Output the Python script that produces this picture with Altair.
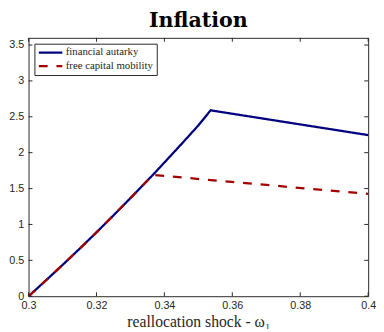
import altair as alt
import pandas as pd

# data
x_aut = [0.300, 0.305, 0.310, 0.315, 0.320, 0.325, 0.330, 0.3366, 0.340, 0.345, 0.350, 0.3536, 0.400]
y_aut = [0.00, 0.215, 0.435, 0.66, 0.89, 1.126, 1.367, 1.69, 1.863, 2.119, 2.38, 2.59, 2.245]
x_fcm = [0.300, 0.305, 0.310, 0.315, 0.320, 0.325, 0.330, 0.3366, 0.400]
y_fcm = [0.00, 0.215, 0.435, 0.66, 0.89, 1.126, 1.367, 1.69, 1.425]
series = ["financial autarky", "free capital mobility"]
x_ticks = [0.30, 0.32, 0.34, 0.36, 0.38, 0.40]
y_ticks = [0, 0.5, 1, 1.5, 2, 2.5, 3, 3.5]

rows = [{"x": a, "y": b, "s": series[0], "o": i} for i, (a, b) in enumerate(zip(x_aut, y_aut))]
rows += [{"x": a, "y": b, "s": series[1], "o": i} for i, (a, b) in enumerate(zip(x_fcm, y_fcm))]
df = pd.DataFrame(rows)

W, H = 347, 264
TK = 4
tick_col = "#262626"
XT = "reallocation shock - ω₁"

xs = alt.Scale(domain=[0.3, 0.4], nice=False, zero=False)
ys = alt.Scale(domain=[0, 3.6], nice=False)

x_axis = alt.Axis(
    values=x_ticks, format=".2~f", title=XT,
    titleFont="Liberation Serif", titleFontSize=16, titleFontWeight="normal",
    titleColor="#262626", titlePadding=3,
    labelFont="Liberation Sans", labelFontSize=11, labelColor="#262626",
    labelPadding=4, tickSize=0, ticks=False, domain=False, grid=False,
    labelFlush=False, labelOverlap=False)
y_axis = alt.Axis(
    values=y_ticks, format="~g", title=None,
    labelFont="Liberation Sans", labelFontSize=11, labelColor="#262626",
    labelPadding=5, tickSize=0, ticks=False, domain=False, grid=False,
    labelFlush=False, labelOverlap=False)

lines = alt.Chart(df).mark_line(strokeWidth=2.3).encode(
    x=alt.X("x:Q", scale=xs, axis=x_axis, title=XT),
    y=alt.Y("y:Q", scale=ys, axis=y_axis, title=None),
    color=alt.Color("s:N", scale=alt.Scale(domain=series, range=["#00007F", "#A30000"]),
                    legend=alt.Legend(title=None, orient="top-left", offset=6,
                                      symbolType="stroke", symbolSize=576,
                                      symbolStrokeWidth=2.3, clipHeight=12,
                                      labelFont="Liberation Serif", labelFontSize=11,
                                      labelColor="#262626",
                                      strokeColor="#262626", fillColor="white",
                                      padding=3, rowPadding=2, labelOffset=2)),
    strokeDash=alt.StrokeDash("s:N", scale=alt.Scale(domain=series, range=[[1, 0], [9, 9]]),
                              legend=alt.Legend(title=None, orient="top-left", offset=6)),
    order="o:Q",
)

xt = pd.DataFrame({"v": x_ticks})
yt = pd.DataFrame({"v": y_ticks})

bottom = alt.Chart(xt).mark_rule(color=tick_col, strokeWidth=1).encode(
    x=alt.X("v:Q", scale=xs, axis=x_axis, title=XT),
    y=alt.value(H), y2=alt.value(H - TK))
top = alt.Chart(xt).mark_rule(color=tick_col, strokeWidth=1).encode(
    x=alt.X("v:Q", scale=xs, axis=x_axis, title=XT),
    y=alt.value(0), y2=alt.value(TK))
left = alt.Chart(yt).mark_rule(color=tick_col, strokeWidth=1).encode(
    y=alt.Y("v:Q", scale=ys, axis=y_axis, title=None),
    x=alt.value(0), x2=alt.value(TK))
right = alt.Chart(yt).mark_rule(color=tick_col, strokeWidth=1).encode(
    y=alt.Y("v:Q", scale=ys, axis=y_axis, title=None),
    x=alt.value(W), x2=alt.value(W - TK))

chart = alt.layer(lines, bottom, top, left, right).properties(
    width=W, height=H,
    autosize=alt.AutoSizeParams(type="none"),
    padding={"left": 21, "top": 27, "right": 8, "bottom": 30},
    title=alt.TitleParams("Inflation", font="DejaVu Serif", fontSize=21, fontWeight="bold",
                          color="black", anchor="middle", frame="group", offset=7),
).configure_view(stroke=tick_col, strokeWidth=1)

chart.save("out.html", embed_options={"renderer": "svg", "actions": False})
